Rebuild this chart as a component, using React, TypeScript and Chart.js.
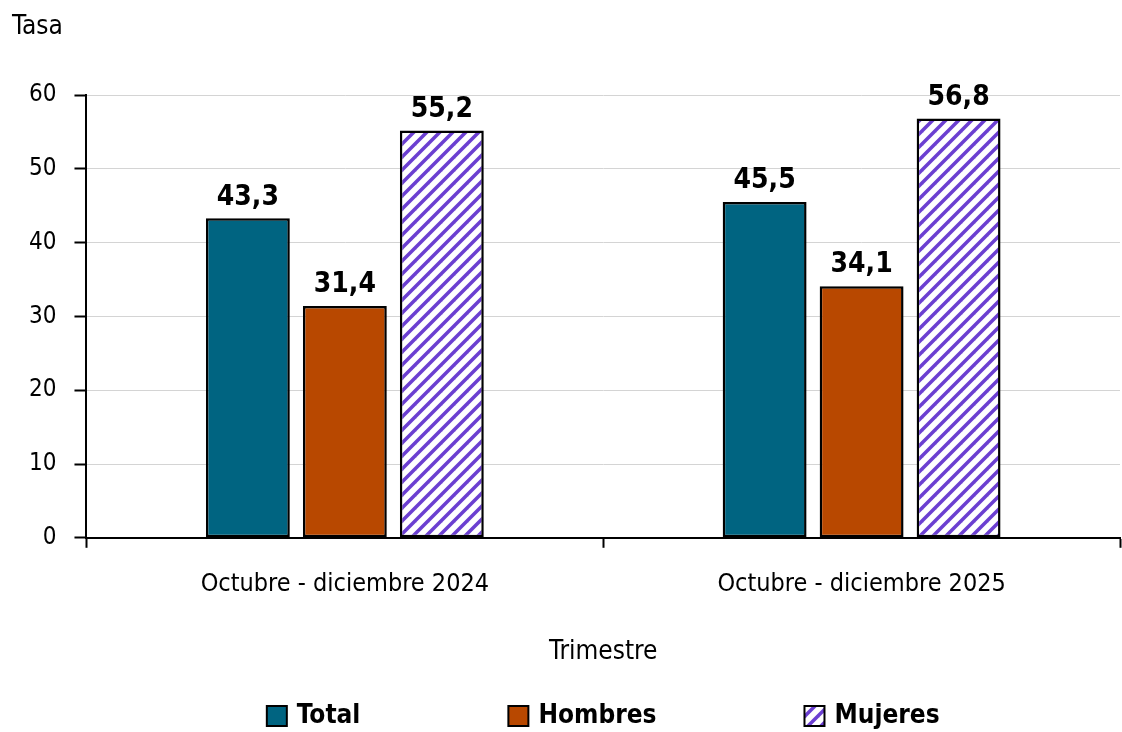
import React, { useEffect, useRef } from "react";
import { Chart, registerables } from "chart.js";

Chart.register(...registerables);

const categories = ["Octubre - diciembre 2024", "Octubre - diciembre 2025"];
const totalValues = [43.3, 45.5];
const hombresValues = [31.4, 34.1];
const mujeresValues = [55.2, 56.8];
const seriesNames = ["Total", "Hombres", "Mujeres"];
const yTicks = [0, 10, 20, 30, 40, 50, 60];

const FONT = "'Liberation Sans Narrow', 'DejaVu Sans Condensed', 'Open Sans', sans-serif";

function makeHatch(): CanvasPattern | string {
  const c = document.createElement("canvas");
  const s = 13;
  c.width = s;
  c.height = s;
  const g = c.getContext("2d");
  if (!g) return "#7040d0";
  g.fillStyle = "#ffffff";
  g.fillRect(0, 0, s, s);
  g.strokeStyle = "#6b3fd1";
  g.lineWidth = 3.5;
  g.lineCap = "square";
  for (let k = -1; k <= 1; k++) {
    g.beginPath();
    g.moveTo(k * s, s);
    g.lineTo(k * s + s, 0);
    g.stroke();
  }
  const p = g.createPattern(c, "repeat");
  return p || "#7040d0";
}

const labelPlugin = {
  id: "valueLabels",
  afterDatasetsDraw(chart: any) {
    const ctx = chart.ctx;
    ctx.save();
    ctx.font = `bold 28px ${FONT}`;
    ctx.fillStyle = "#000";
    ctx.textAlign = "center";
    ctx.textBaseline = "bottom";
    chart.data.datasets.forEach((ds: any, i: number) => {
      const meta = chart.getDatasetMeta(i);
      meta.data.forEach((el: any, j: number) => {
        const v = ds.data[j];
        ctx.fillText(String(v).replace(".", ","), el.x, el.y - 7);
      });
    });
    ctx.restore();
  },
};

const titlePlugin = {
  id: "yTitleTop",
  afterDraw(chart: any) {
    const ctx = chart.ctx;
    ctx.save();
    ctx.font = `26px ${FONT}`;
    ctx.fillStyle = "#000";
    ctx.textAlign = "left";
    ctx.textBaseline = "middle";
    ctx.fillText("Tasa", 12, 27);
    ctx.restore();
  },
};

const legendPlugin = {
  id: "customLegend",
  afterDraw(chart: any) {
    const ctx = chart.ctx;
    const ca = chart.chartArea;
    ctx.save();
    ctx.font = `bold 26px ${FONT}`;
    const box = 20;
    const gapBoxText = 10;
    const itemGap = 148;
    const items = chart.data.datasets.map((ds: any) => ({
      label: ds.label,
      fill: ds.backgroundColor,
      w: box + gapBoxText + ctx.measureText(ds.label).width,
    }));
    const total = items.reduce((a: number, it: any) => a + it.w, 0) + itemGap * (items.length - 1);
    let x = (ca.left + ca.right) / 2 - total / 2;
    const y = 716;
    items.forEach((it: any) => {
      ctx.fillStyle = it.fill;
      ctx.fillRect(x, y - box / 2, box, box);
      ctx.lineWidth = 2;
      ctx.strokeStyle = "#000";
      ctx.strokeRect(x, y - box / 2, box, box);
      ctx.fillStyle = "#000";
      ctx.textAlign = "left";
      ctx.textBaseline = "middle";
      ctx.fillText(it.label, x + box + gapBoxText, y);
      x += it.w + itemGap;
    });
    ctx.restore();
  },
};

export default function App() {
  const ref = useRef<HTMLCanvasElement>(null);
  useEffect(() => {
    document.body.style.margin = "0";
    if (!ref.current) return;
    const hatch = makeHatch();
    const chart = new Chart(ref.current, {
      type: "bar",
      data: {
        labels: categories,
        datasets: [
          { label: seriesNames[0], data: totalValues, backgroundColor: "#006481", borderColor: "#000", borderWidth: 2.5, borderSkipped: false },
          { label: seriesNames[1], data: hombresValues, backgroundColor: "#b84800", borderColor: "#000", borderWidth: 2.5, borderSkipped: false },
          { label: seriesNames[2], data: mujeresValues, backgroundColor: hatch as any, borderColor: "#000", borderWidth: 2.5, borderSkipped: false },
        ],
      },
      options: {
        animation: false,
        responsive: false,
        maintainAspectRatio: false,
        datasets: { bar: { categoryPercentage: 0.563, barPercentage: 0.865 } },
        layout: { padding: { top: 95, right: 2, left: 11, bottom: 60 } },
        scales: {
          x: {
            grid: { drawOnChartArea: false, tickLength: 10, tickColor: "#000", tickWidth: 2, offset: true },
            border: { color: "#000", width: 2 },
            ticks: { color: "#000", font: { family: FONT, size: 25 }, padding: 22 },
            title: { display: true, text: "Trimestre", color: "#000", font: { family: FONT, size: 26 }, padding: { top: 15, bottom: 4 } },
          },
          y: {
            min: 0,
            max: 60,
            afterBuildTicks(axis: any) {
              axis.ticks = yTicks.map((v) => ({ value: v }));
            },
            grid: { color: "#d4d4d4", lineWidth: 1, tickLength: 12, tickColor: "#000", tickWidth: 2 },
            border: { color: "#000", width: 2 },
            ticks: { color: "#000", font: { family: FONT, size: 24 }, padding: 18 },
          },
        },
        plugins: {
          legend: { display: false },
          tooltip: { enabled: false },
        },
      },
      plugins: [labelPlugin, titlePlugin, legendPlugin],
    });
    return () => chart.destroy();
  }, []);
  return (
    <div style={{ width: 1122, height: 732 }}>
      <canvas ref={ref} width={1122} height={732} style={{ display: "block" }} />
    </div>
  );
}
